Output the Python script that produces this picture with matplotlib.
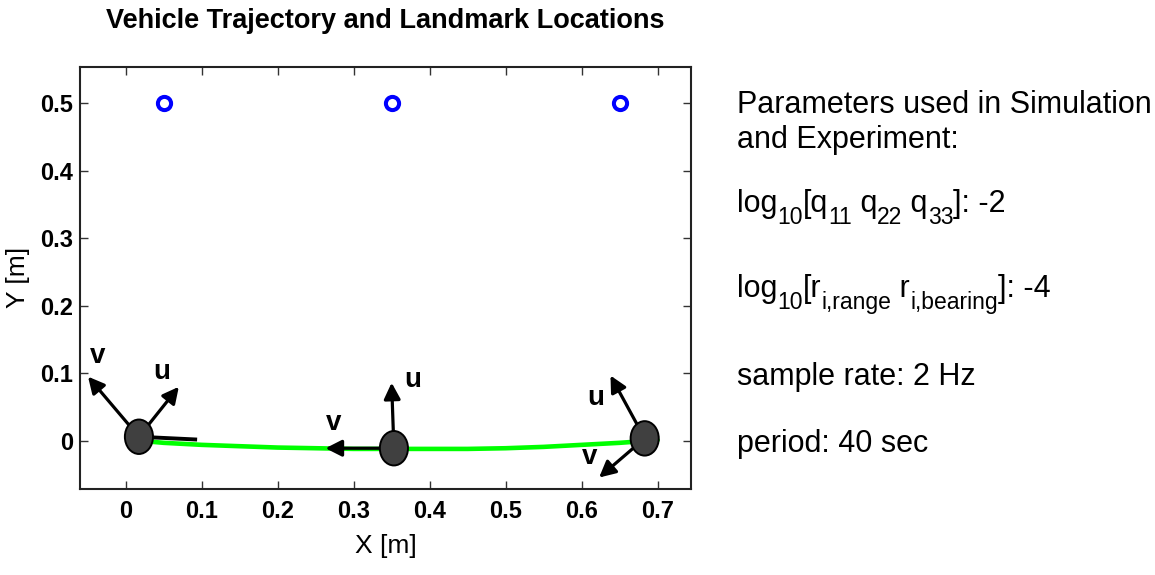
import matplotlib
matplotlib.use('Agg')
import matplotlib.pyplot as plt
from matplotlib.patches import Ellipse

plt.rcParams['font.family'] = ['Liberation Sans', 'DejaVu Sans']

# landmark positions [m]
landmark_x = [0.05, 0.35, 0.65]
landmark_y = [0.50, 0.50, 0.50]

# estimated vehicle path [m]
traj_x = [0.02, 0.05, 0.10, 0.15, 0.20, 0.25, 0.30, 0.35, 0.40, 0.45, 0.50, 0.55, 0.60, 0.65, 0.70]
traj_y = [0.000, -0.003, -0.006, -0.008, -0.010, -0.011, -0.012, -0.012, -0.012, -0.012, -0.011, -0.009, -0.006, -0.003, 0.001]

# vehicle poses and body-frame axes (u, v) as vectors [m]
veh_x = [0.0175, 0.353, 0.683]
veh_y = [0.006, -0.011, 0.0036]
u_dx = [0.0525, -0.003, -0.045]
u_dy = [0.074, 0.097, 0.093]
v_dx = [-0.067, -0.090, -0.060]
v_dy = [0.089, 0.000, -0.058]
heading_dx = 0.074
heading_dy = -0.004

xticks = [0, 0.1, 0.2, 0.3, 0.4, 0.5, 0.6, 0.7]
xtick_labels = ['0', '0.1', '0.2', '0.3', '0.4', '0.5', '0.6', '0.7']
yticks = [0, 0.1, 0.2, 0.3, 0.4, 0.5]
ytick_labels = ['0', '0.1', '0.2', '0.3', '0.4', '0.5']

# each line is a list of (text, is_subscript) pieces
param_lines = [
    [('Parameters used in Simulation', False)],
    [('and Experiment:', False)],
    [('log', False), ('10', True), ('[q', False), ('11', True), (' q', False),
     ('22', True), (' q', False), ('33', True), (']: -2', False)],
    [('log', False), ('10', True), ('[r', False), ('i,range', True), (' r', False),
     ('i,bearing', True), (']: -4', False)],
    [('sample rate: 2 Hz', False)],
    [('period: 40 sec', False)],
]

fig = plt.figure(figsize=(11.55, 5.75), dpi=100, facecolor='white')
ax = fig.add_axes([0.0693, 0.150, 0.5290, 0.734])

ax.plot(traj_x, traj_y, color='#00ff00', lw=3.3, zorder=2, solid_capstyle='round')
ax.plot(landmark_x, landmark_y, 'o', ls='none', mfc='none', mec='#0000ff',
        ms=9.5, mew=2.9, zorder=3)

arrow_kw = dict(arrowstyle='-|>,head_length=0.65,head_width=0.33', mutation_scale=15,
                color='black', lw=2.3, shrinkA=0, shrinkB=0)
for i in range(len(veh_x)):
    x0, y0 = veh_x[i], veh_y[i]
    ax.annotate('', xy=(x0 + u_dx[i], y0 + u_dy[i]), xytext=(x0, y0),
                arrowprops=arrow_kw, zorder=4)
    ax.annotate('', xy=(x0 + v_dx[i], y0 + v_dy[i]), xytext=(x0, y0),
                arrowprops=arrow_kw, zorder=4)
    ax.add_patch(Ellipse((x0, y0), 0.037, 0.051, facecolor='#404040',
                         edgecolor='black', lw=1.4, zorder=5))

# heading of the first pose
ax.plot([veh_x[0], veh_x[0] + heading_dx], [veh_y[0], veh_y[0] + heading_dy],
        color='black', lw=2.8, zorder=4)

# axis letters next to each arrow
label_kw = dict(fontsize=20, fontweight='bold', ha='center', va='center', zorder=6)
frame_labels = [('v', -0.037, 0.125), ('u', 0.047, 0.102),
                ('v', 0.274, 0.026), ('u', 0.378, 0.090),
                ('u', 0.619, 0.063), ('v', 0.611, -0.024)]
for txt, lx, ly in frame_labels:
    ax.text(lx, ly, txt, **label_kw)

ax.set_xlim(-0.06, 0.744)
ax.set_ylim(-0.071, 0.554)
ax.set_xticks(xticks)
ax.set_xticklabels(xtick_labels)
ax.set_yticks(yticks)
ax.set_yticklabels(ytick_labels)
ax.tick_params(direction='in', length=6, width=1.0, top=True, right=True,
               labelsize=17, color='#333333')
ax.tick_params(axis='x', pad=8)
ax.tick_params(axis='y', pad=5)
for lbl in ax.get_xticklabels() + ax.get_yticklabels():
    lbl.set_fontweight('bold')
for sp in ax.spines.values():
    sp.set_linewidth(1.5)
    sp.set_color('#222222')

ax.set_xlabel('X [m]', fontsize=19, labelpad=8)
ax.set_ylabel('Y [m]', fontsize=19, labelpad=7)
ax.set_title('Vehicle Trajectory and Landmark Locations', fontsize=19.5,
             fontweight='bold', pad=28)

# parameter block, pieces laid out one after another
renderer = fig.canvas.get_renderer()
fig_w = fig.get_figwidth() * fig.dpi
base_size = 22
text_y = [0.803, 0.742, 0.632, 0.484, 0.330, 0.214]
for pieces, ty in zip(param_lines, text_y):
    x = 0.638
    for s, is_sub in pieces:
        size = base_size * 0.75 if is_sub else base_size
        y = ty - (base_size * 0.4 / 72 / fig.get_figheight() if is_sub else 0)
        t = fig.text(x, y, s, fontsize=size, ha='left', va='baseline')
        x += t.get_window_extent(renderer).width / fig_w

fig.savefig('out.png', dpi=100, facecolor='white')
